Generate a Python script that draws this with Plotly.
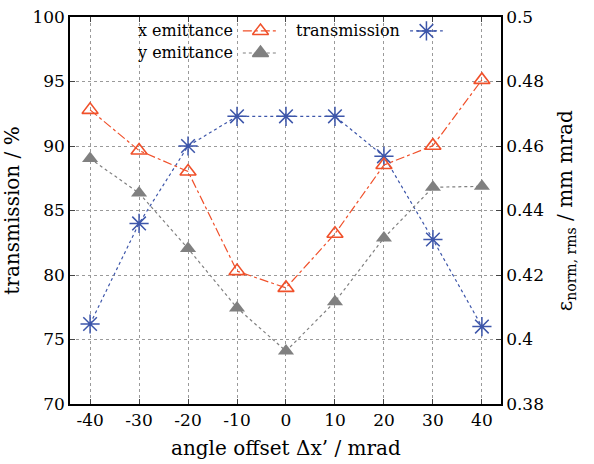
import plotly.graph_objs as go

# angle offset in mrad
angle = [-40, -30, -20, -10, 0, 10, 20, 30, 40]

# transmission in % (left axis)
transmission = [76.2, 84.0, 90.0, 92.3, 92.3, 92.3, 89.2, 82.75, 76.0]

# emittances in mm mrad (right axis)
x_emittance = [0.4712, 0.4586, 0.4521, 0.4212, 0.4160, 0.4328, 0.4541, 0.4601, 0.4805]
y_emittance = [0.4561, 0.4454, 0.4282, 0.4098, 0.3964, 0.4117, 0.4315, 0.4472, 0.4475]

x_ticks = [-40, -30, -20, -10, 0, 10, 20, 30, 40]
x_labels = ['-40', '-30', '-20', '-10', '0', '10', '20', '30', '40']
left_ticks = [70, 75, 80, 85, 90, 95, 100]
right_ticks = [0.38, 0.4, 0.42, 0.44, 0.46, 0.48, 0.5]
right_labels = ['0.38', '0.4', '0.42', '0.44', '0.46', '0.48', '0.5']

RED = '#f0502a'
BLUE = '#3d56aa'
GREY = '#808080'
FONT = 'DejaVu Serif'

fig = go.Figure()

fig.add_trace(go.Scatter(x=angle, y=x_emittance, yaxis='y2', mode='lines+markers',
                         line=dict(color=RED, width=1.2, dash='dashdot'),
                         marker=dict(symbol='triangle-up-open', size=14, color=RED,
                                     line=dict(width=1.6, color=RED))))
fig.add_trace(go.Scatter(x=angle, y=y_emittance, yaxis='y2', mode='lines+markers',
                         line=dict(color=GREY, width=1.2, dash='dot'),
                         marker=dict(symbol='triangle-up', size=14, color=GREY)))
fig.add_trace(go.Scatter(x=angle, y=transmission, mode='lines+markers',
                         line=dict(color=BLUE, width=1.2, dash='dot'),
                         marker=dict(symbol='asterisk-open', size=16, color=BLUE,
                                     line=dict(width=1.5, color=BLUE))))

# legend samples, drawn on a hidden helper axis in plot fractions
legend_items = [
    ('x emittance', 0.383, 0.964, 0.401, 0.483, RED, 'dashdot', 'triangle-up-open'),
    ('y emittance', 0.383, 0.907, 0.401, 0.483, GREY, 'dot', 'triangle-up'),
    ('transmission', 0.771, 0.964, 0.789, 0.865, BLUE, 'dot', 'asterisk-open'),
]
annotations = []
for name, tx, ty, x0, x1, col, dash, sym in legend_items:
    fig.add_trace(go.Scatter(x=[x0, x1], y=[ty, ty], xaxis='x3', yaxis='y3', mode='lines',
                             line=dict(color=col, width=1.2, dash=dash), hoverinfo='skip'))
    fig.add_trace(go.Scatter(x=[(x0 + x1) / 2], y=[ty], xaxis='x3', yaxis='y3', mode='markers',
                             marker=dict(symbol=sym, size=14 if 'triangle' in sym else 16, color=col,
                                         line=dict(width=1.5, color=col)), hoverinfo='skip'))
    annotations.append(dict(x=tx, y=ty, xref='paper', yref='paper', text=name, showarrow=False,
                            xanchor='right', yanchor='middle', font=dict(size=16, color='black')))

# axis titles placed as annotations
annotations.append(dict(x=1.15, y=0.5, xref='paper', yref='paper', textangle=-90, showarrow=False,
                        text='\u03b5<sub>norm, rms</sub> / mm mrad', xanchor='center', yanchor='middle',
                        font=dict(size=20, color='black')))
annotations.append(dict(x=0.5, y=-0.114, xref='paper', yref='paper', showarrow=False,
                        text='angle offset \u0394x\u2019 / mrad', xanchor='center', yanchor='middle',
                        font=dict(size=20, color='black')))

fig.update_layout(
    width=594, height=464,
    margin=dict(l=70, r=93, t=17, b=60),
    plot_bgcolor='white', paper_bgcolor='white',
    font=dict(family=FONT, size=17, color='black'),
    showlegend=False,
    annotations=annotations,
    xaxis=dict(range=[-44.1, 43.9], tickvals=x_ticks, ticktext=x_labels, ticks='inside', ticklen=5,
               showline=True, linecolor='black', linewidth=1.5, mirror='ticks', automargin=False,
               showgrid=True, gridcolor='#9a9a9a', griddash='dot', gridwidth=1, zeroline=False),
    yaxis=dict(range=[70, 100], tickvals=left_ticks, ticks='inside', ticklen=5, automargin=False,
               showline=True, linecolor='black', linewidth=1.5,
               showgrid=True, gridcolor='#9a9a9a', griddash='dot', gridwidth=1,
               zeroline=False, title=dict(text='transmission / %', font=dict(size=20), standoff=8)),
    yaxis2=dict(range=[0.38, 0.5], tickvals=right_ticks, ticktext=right_labels, overlaying='y', side='right',
                ticks='inside', ticklen=5, showline=True, linecolor='black', linewidth=1.5,
                showgrid=False, zeroline=False, automargin=False),
    xaxis3=dict(range=[0, 1], overlaying='x', visible=False, fixedrange=True),
    yaxis3=dict(range=[0, 1], overlaying='y', visible=False, fixedrange=True),
)

# the page body has a default margin; drop it so the figure fills the window
fig.write_html("out.html", config={'displayModeBar': False},
               post_script="document.body.style.margin='0';")
